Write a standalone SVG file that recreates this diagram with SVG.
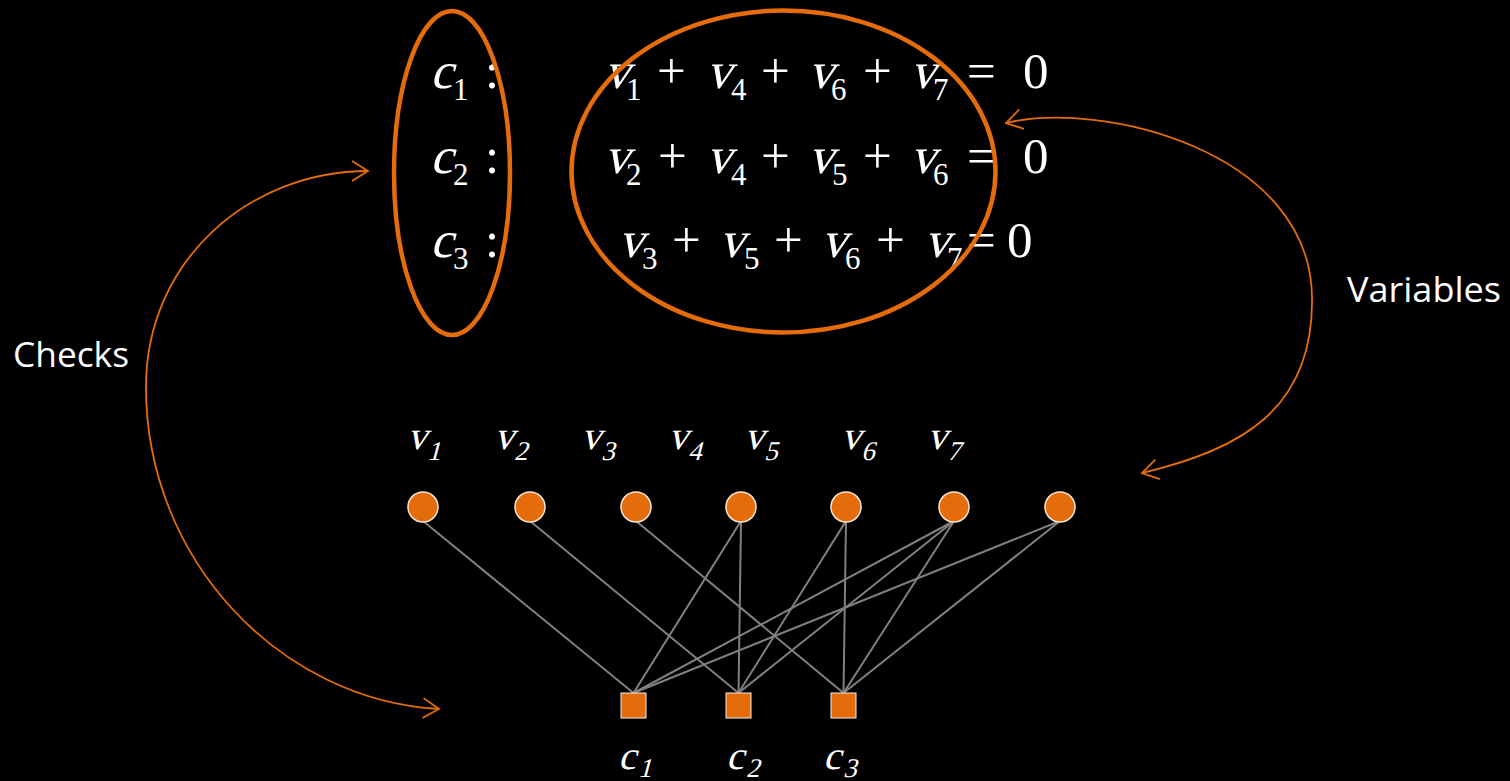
<svg xmlns="http://www.w3.org/2000/svg" width="1510" height="781" viewBox="0 0 1510 781">
<defs>
<style>
.m{font-family:'Liberation Serif',serif;fill:#fff;font-size:51px}
.s{font-size:31px}
.lb{font-family:'Liberation Serif',serif;fill:#fff;font-size:40px}
.ls{font-size:27px}
.t{font-family:'Open Sans','Noto Sans',sans-serif;fill:#fff;font-size:34px}
.ring{fill:none;stroke:#E46C0A;stroke-width:4.5}
.arc{fill:none;stroke:#E46C0A;stroke-width:1.8}
.edge{stroke:#808080;stroke-width:2}
.vn{fill:#E46C0A;stroke:#FBE5D6;stroke-width:1.5}
.cn{fill:#E46C0A;stroke:#F2F2F2;stroke-width:1}
</style>
<marker id="ah" viewBox="0 0 20 24" refX="18" refY="12" markerWidth="20" markerHeight="24" markerUnits="userSpaceOnUse" orient="auto-start-reverse">
<path d="M2,2 L18,12 L2,22" fill="none" stroke="#E46C0A" stroke-width="1.8"/>
</marker>
</defs>
<rect width="1510" height="781" fill="#000"/>

<g id="equations">
<text class="m" transform="translate(430,88) skewX(-15)">c</text><text class="m s" x="453" y="100">1</text><text class="m" x="485" y="88">:</text>
<text class="m" transform="translate(604,88) skewX(-15)">v</text><text class="m s" x="626" y="100">1</text>
<text class="m" x="657" y="88">+</text>
<text class="m" transform="translate(706,88) skewX(-15)">v</text><text class="m s" x="731" y="100">4</text>
<text class="m" x="761" y="88">+</text>
<text class="m" transform="translate(808,88) skewX(-15)">v</text><text class="m s" x="831" y="100">6</text>
<text class="m" x="863" y="88">+</text>
<text class="m" transform="translate(910,88) skewX(-15)">v</text><text class="m s" x="933" y="100">7</text>
<text class="m" x="967" y="88">=</text>
<text class="m" x="1023" y="88">0</text>

<text class="m" transform="translate(430,173) skewX(-15)">c</text><text class="m s" x="453" y="185">2</text><text class="m" x="485" y="173">:</text>
<text class="m" transform="translate(604,173) skewX(-15)">v</text><text class="m s" x="626" y="185">2</text>
<text class="m" x="658" y="173">+</text>
<text class="m" transform="translate(706,173) skewX(-15)">v</text><text class="m s" x="731" y="185">4</text>
<text class="m" x="761" y="173">+</text>
<text class="m" transform="translate(808,173) skewX(-15)">v</text><text class="m s" x="832" y="185">5</text>
<text class="m" x="863" y="173">+</text>
<text class="m" transform="translate(910,173) skewX(-15)">v</text><text class="m s" x="933" y="185">6</text>
<text class="m" x="967" y="173">=</text>
<text class="m" x="1023" y="173">0</text>

<text class="m" transform="translate(430,257) skewX(-15)">c</text><text class="m s" x="453" y="269">3</text><text class="m" x="485" y="257">:</text>
<text class="m" transform="translate(618,257) skewX(-15)">v</text><text class="m s" x="642" y="269">3</text>
<text class="m" x="672" y="257">+</text>
<text class="m" transform="translate(719,257) skewX(-15)">v</text><text class="m s" x="744" y="269">5</text>
<text class="m" x="774" y="257">+</text>
<text class="m" transform="translate(821,257) skewX(-15)">v</text><text class="m s" x="845" y="269">6</text>
<text class="m" x="876" y="257">+</text>
<text class="m" transform="translate(924,257) skewX(-15)">v</text><text class="m s" x="947" y="269">7</text>
<text class="m" x="967" y="257">=</text>
<text class="m" x="1007" y="257">0</text>
</g>

<g id="checks-ring"><ellipse class="ring" cx="452" cy="173" rx="58" ry="162"/></g>
<g id="variables-ring"><ellipse class="ring" cx="783.5" cy="171.5" rx="212" ry="161"/></g>

<g id="label-checks"><text class="t" x="13" y="367" textLength="116" lengthAdjust="spacingAndGlyphs">Checks</text></g>
<g id="label-variables"><text class="t" x="1347" y="302" textLength="154" lengthAdjust="spacingAndGlyphs">Variables</text></g>

<g id="connectors">
<path class="arc" d="M368,171 C250,171 146,260 146,387 C146,560 280,700 439,709" marker-start="url(#ah)" marker-end="url(#ah)"/>
<path class="arc" d="M1006,123 C1100,100 1310,150 1312,297 C1314,410 1240,450 1142,473" marker-start="url(#ah)" marker-end="url(#ah)"/>
<line class="edge" x1="423" y1="521" x2="633.5" y2="693"/>
<line class="edge" x1="741" y1="521" x2="633.5" y2="693"/>
<line class="edge" x1="954" y1="521" x2="633.5" y2="693"/>
<line class="edge" x1="1060" y1="521" x2="633.5" y2="693"/>
<line class="edge" x1="530" y1="521" x2="738.5" y2="693"/>
<line class="edge" x1="741" y1="521" x2="738.5" y2="693"/>
<line class="edge" x1="846" y1="521" x2="738.5" y2="693"/>
<line class="edge" x1="954" y1="521" x2="738.5" y2="693"/>
<line class="edge" x1="636" y1="521" x2="843.5" y2="693"/>
<line class="edge" x1="846" y1="521" x2="843.5" y2="693"/>
<line class="edge" x1="954" y1="521" x2="843.5" y2="693"/>
<line class="edge" x1="1060" y1="521" x2="843.5" y2="693"/>
</g>

<g id="v1"><circle class="vn" cx="423" cy="507" r="15"/><text class="lb" transform="translate(407,449) skewX(-15)">v</text><text class="lb ls" transform="translate(427,460) skewX(-15)">1</text></g>
<g id="v2"><circle class="vn" cx="530" cy="507" r="15"/><text class="lb" transform="translate(494,449) skewX(-15)">v</text><text class="lb ls" transform="translate(514,460) skewX(-15)">2</text></g>
<g id="v3"><circle class="vn" cx="636" cy="507" r="15"/><text class="lb" transform="translate(581,449) skewX(-15)">v</text><text class="lb ls" transform="translate(601,460) skewX(-15)">3</text></g>
<g id="v4"><circle class="vn" cx="741" cy="507" r="15"/><text class="lb" transform="translate(668,449) skewX(-15)">v</text><text class="lb ls" transform="translate(688,460) skewX(-15)">4</text></g>
<g id="v5"><circle class="vn" cx="846" cy="507" r="15"/><text class="lb" transform="translate(744,449) skewX(-15)">v</text><text class="lb ls" transform="translate(764,460) skewX(-15)">5</text></g>
<g id="v6"><circle class="vn" cx="954" cy="507" r="15"/><text class="lb" transform="translate(841,449) skewX(-15)">v</text><text class="lb ls" transform="translate(861,460) skewX(-15)">6</text></g>
<g id="v7"><circle class="vn" cx="1060" cy="507" r="15"/><text class="lb" transform="translate(927,449) skewX(-15)">v</text><text class="lb ls" transform="translate(947,460) skewX(-15)">7</text></g>

<g id="c1"><rect class="cn" x="621" y="693" width="25" height="25"/><text class="lb" transform="translate(618,769) skewX(-15)">c</text><text class="lb ls" transform="translate(638,777) skewX(-15)">1</text></g>
<g id="c2"><rect class="cn" x="726" y="693" width="25" height="25"/><text class="lb" transform="translate(726,769) skewX(-15)">c</text><text class="lb ls" transform="translate(746,777) skewX(-15)">2</text></g>
<g id="c3"><rect class="cn" x="831" y="693" width="25" height="25"/><text class="lb" transform="translate(823,769) skewX(-15)">c</text><text class="lb ls" transform="translate(843,777) skewX(-15)">3</text></g>
</svg>
